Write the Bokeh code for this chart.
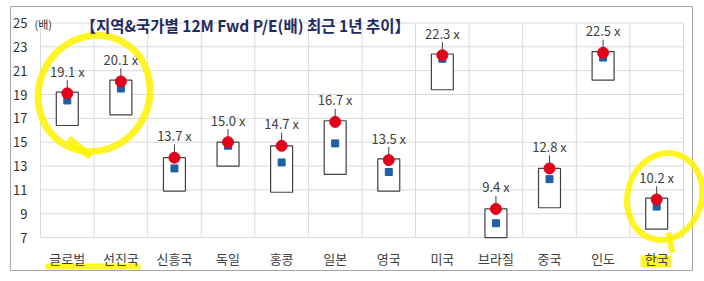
from bokeh.plotting import figure
from bokeh.models import Range1d, ColumnDataSource
from bokeh.core.properties import value
from bokeh.embed import file_html
from bokeh.resources import INLINE

categories = ["글로벌", "선진국", "신흥국", "독일", "홍콩", "일본", "영국", "미국", "브라질", "중국", "인도", "한국"]
current = [19.1, 20.1, 13.7, 15.0, 14.7, 16.7, 13.5, 22.3, 9.4, 12.8, 22.5, 10.2]
high = [19.2, 20.2, 13.7, 15.0, 14.7, 16.8, 13.6, 22.4, 9.4, 12.8, 22.6, 10.3]
low = [16.4, 17.3, 10.9, 13.0, 10.8, 12.3, 10.9, 19.4, 7.0, 9.5, 20.2, 7.7]
average = [18.5, 19.5, 12.8, 14.7, 13.3, 14.9, 12.5, 22.0, 8.2, 11.9, 22.1, 9.6]
y_ticks = [7, 9, 11, 13, 15, 17, 19, 21, 23, 25]
title_text = "【지역&국가별 12M Fwd P/E(배) 최근 1년 추이】"
unit_text = "(배)"

W, H = 704, 281
X0, CW = 40.0, 53.58      # px of category 0 edge, px per category
Y25, S = 22.5, 11.92      # px of value 25, px per unit

def dx(px):
    return (px - X0) / CW

def dy(py):
    return 25 - (py - Y25) / S

FONT = value("Noto Sans CJK KR")
n = len(categories)
xc = [i + 0.5 for i in range(n)]

p = figure(width=W, height=H, output_backend="svg", toolbar_location=None,
           x_range=Range1d(dx(0), dx(W)), y_range=Range1d(dy(H), dy(0)),
           x_axis_location=None, y_axis_location=None, min_border=0)
p.grid.visible = False
p.outline_line_color = None
p.background_fill_color = "white"
p.border_fill_color = "white"

# outer chart border
p.quad(left=[dx(10)], right=[dx(692)], top=[dy(6)], bottom=[dy(270)],
       fill_color=None, line_color="#A6A6A6", line_width=1)

# gridlines
ymin, ymax = y_ticks[0], y_ticks[-1]
p.segment(x0=[0] * len(y_ticks), x1=[n] * len(y_ticks), y0=y_ticks, y1=y_ticks,
          line_color="#D9D9D9", line_width=1)
p.segment(x0=list(range(n + 1)), x1=list(range(n + 1)),
          y0=[ymin] * (n + 1), y1=[ymax] * (n + 1), line_color="#D9D9D9", line_width=1)

# y tick labels
p.text(x=[dx(27)] * len(y_ticks), y=y_ticks, text=[str(t) for t in y_ticks],
       text_font=FONT, text_font_size="13px", text_color="#333333",
       text_align="right", text_baseline="middle")

# highlighter marks
YEL = "#FFF200"
p.ellipse(x=[1.0], y=[dy(93)], width=[110], height=[118], width_units="screen",
          height_units="screen", angle=-0.5, fill_color=None, line_color=YEL,
          line_width=7, line_alpha=0.85)
p.segment(x0=[dx(68)], y0=[dy(138)], x1=[dx(90)], y1=[dy(156)], line_color=YEL,
          line_width=7, line_alpha=0.85)
p.ellipse(x=[11.5 + dx(664) - dx(656)], y=[dy(196)], width=[74], height=[88],
          width_units="screen", height_units="screen", angle=-0.3, fill_color=None,
          line_color=YEL, line_width=6, line_alpha=0.85)
p.segment(x0=[dx(668)], y0=[dy(232)], x1=[dx(672)], y1=[dy(252)], line_color=YEL,
          line_width=6, line_alpha=0.85)
p.segment(x0=[dx(45)], y0=[dy(266)], x1=[dx(140)], y1=[dy(266)], line_color=YEL,
          line_width=6, line_alpha=0.85)
p.quad(left=[11.5 - 0.3], right=[11.5 + 0.28], top=[dy(255)], bottom=[dy(267)],
       fill_color=YEL, fill_alpha=0.85, line_color=None)

src = ColumnDataSource(dict(x=xc, cur=current, hi=high, lo=low, avg=average,
                            lab=[f"{v:.1f} x" for v in current],
                            ly=[v + 1.85 for v in current],
                            l0=[v + 0.35 for v in current],
                            l1=[v + 1.1 for v in current]))

# range boxes
p.vbar(x="x", top="hi", bottom="lo", width=0.41, source=src,
       fill_color="white", line_color="#404040", line_width=1.2)
# leader lines
p.segment(x0="x", x1="x", y0="l0", y1="l1", source=src, line_color="#404040", line_width=1)
# average
p.scatter(x="x", y="avg", source=src, marker="square", size=7,
          fill_color="#1F5FA8", line_color="#1F5FA8")
# current
p.scatter(x="x", y="cur", source=src, marker="circle", size=11,
          fill_color="#E3001B", line_color="#E3001B")
# value labels
p.text(x="x", y="ly", text="lab", source=src, text_font=FONT, text_font_size="13px",
       text_color="#404040", text_align="center", text_baseline="middle")

# category labels
p.text(x=xc, y=[dy(258)] * n, text=categories, text_font=FONT, text_font_size="13px",
       text_color="#404040", text_align="center", text_baseline="middle")

# title and unit
p.text(x=[dx(80)], y=[dy(24)], text=[title_text], text_font=FONT, text_font_size="15.5px",
       text_font_style="bold", text_color="#1F2A60", text_align="left", text_baseline="middle")
p.text(x=[dx(34)], y=[dy(23)], text=[unit_text], text_font=FONT, text_font_size="11px",
       text_color="#333333", text_align="left", text_baseline="middle")

open("out.html", "w").write(file_html(p, INLINE))
